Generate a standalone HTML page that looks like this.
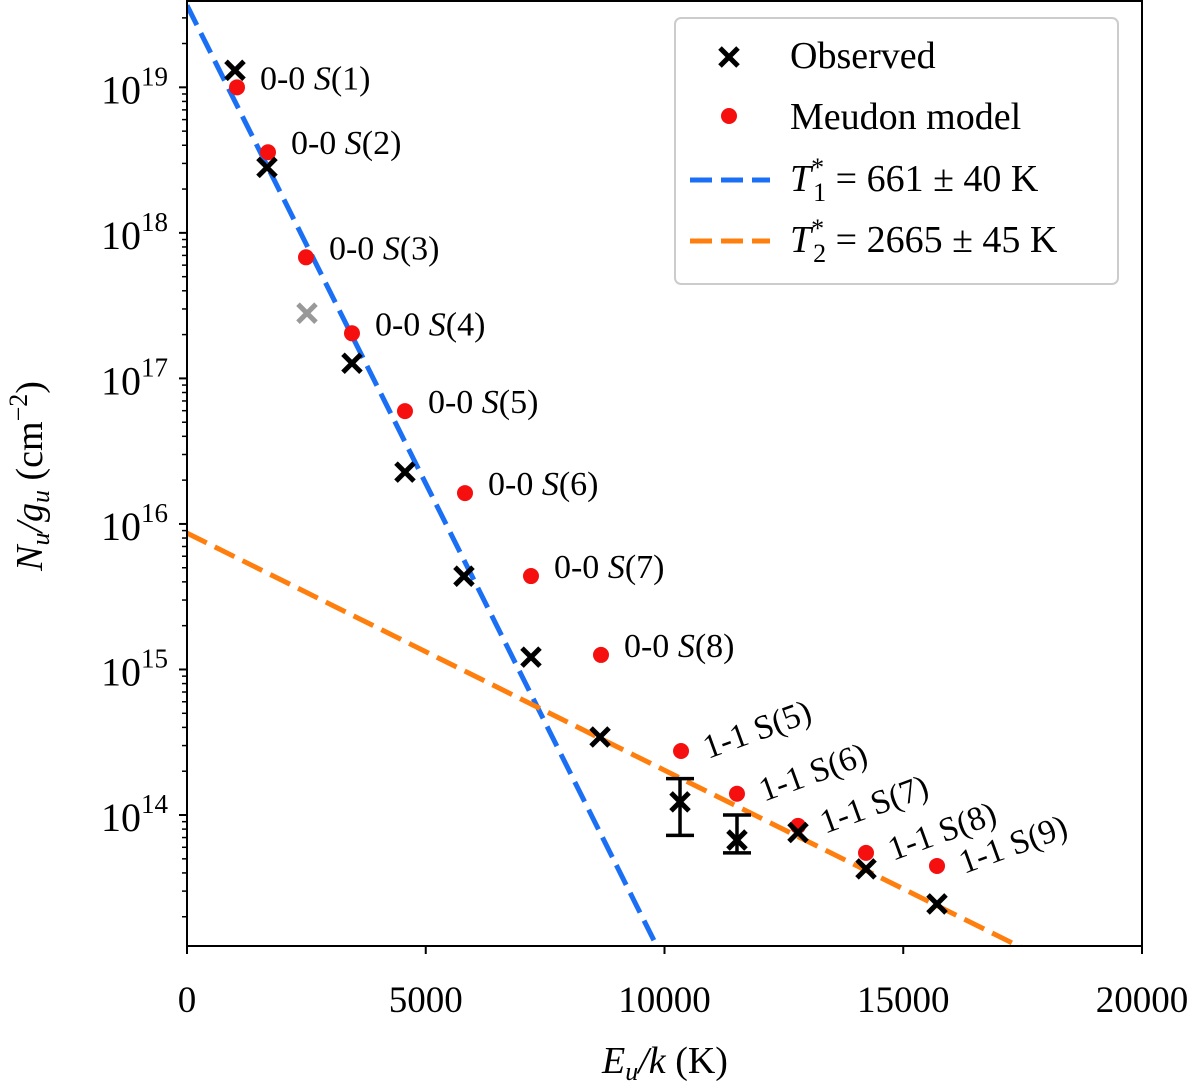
<!DOCTYPE html>
<html><head><meta charset="utf-8"><style>
html,body{margin:0;padding:0;background:#fff;overflow:hidden;}
svg{display:block;font-family:"Liberation Serif","DejaVu Serif",serif;}
</style></head><body>
<svg id="chart" width="1200" height="1091" viewBox="0 0 1200 1091"></svg>
<script>
const obsE=[1005,1675,3455,4565,5800,7204,8650,10325,11518,12796,14220,15707];
const obsLogN=[19.117,18.45,17.104,16.356,15.641,15.085,14.536,14.09,13.828,13.88,13.63,13.389];
const obsErrLo=[null,null,null,null,null,null,null,13.86,13.74,null,null,null];
const obsErrHi=[null,null,null,null,null,null,null,14.25,14.0,null,null,null];
const greyE=[2513];
const greyLogN=[17.448];
const modE=[1047,1696,2492,3455,4565,5822,7204,8670,10346,11518,12796,14220,15707];
const modLogN=[19.0,18.554,17.832,17.31,16.775,16.212,15.642,15.10,14.44,14.146,13.925,13.74,13.65];
const lineLabels=["0-0 S(1)","0-0 S(2)","0-0 S(3)","0-0 S(4)","0-0 S(5)","0-0 S(6)","0-0 S(7)","0-0 S(8)","1-1 S(5)","1-1 S(6)","1-1 S(7)","1-1 S(8)","1-1 S(9)"];
const fitT=[661,2665];
const fitLogN0=[19.563,15.937];
const xTicks=[0,5000,10000,15000,20000];
const yDecades=[14,15,16,17,18,19];

const NS="http://www.w3.org/2000/svg";
const svg=document.getElementById('chart');
const L=187,R=1142,T=0,B=946;
const x=e=>L+(e-0)/20000*(R-L);
const yMin=13.1,yMax=19.6;
const y=v=>B-(v-yMin)/(yMax-yMin)*(B-T);
function el(tag,attrs,parent){const e=document.createElementNS(NS,tag);for(const k in attrs)e.setAttribute(k,attrs[k]);(parent||svg).appendChild(e);return e;}

const defs=el('defs',{});const cp=el('clipPath',{id:'pc'},defs);el('rect',{x:L,y:T,width:R-L,height:B-T},cp);
const plot=el('g',{'clip-path':'url(#pc)'});



const fitColors=['#1a6ff5','#ff7f0e'];
fitT.forEach((t,i)=>{
  const slope=Math.LOG10E/t;
  const e1=20000;
  const ln=el('line',{x1:x(0),y1:y(fitLogN0[i]),x2:x(e1),y2:y(fitLogN0[i]-slope*e1),stroke:fitColors[i],'stroke-width':5,'stroke-dasharray':'22,9'},plot);
  
  
});

modE.forEach((e,i)=>{
  const c=el('circle',{cx:x(e),cy:y(modLogN[i]),r:8,fill:'#f50f0f'},plot);
  
  
});
function cross(px,py,col,parent,name){
  const g=el('g',{stroke:col,'stroke-width':5,'stroke-linecap':'butt'},parent);
  el('line',{x1:px-9,y1:py-9,x2:px+9,y2:py+9},g);el('line',{x1:px-9,y1:py+9,x2:px+9,y2:py-9},g);
  
  
}
greyE.forEach((e,i)=>cross(x(e),y(greyLogN[i]),'#999999',plot,'excluded-point'));
obsE.forEach((e,i)=>{
  if(obsErrLo[i]!==null){
    const g=el('g',{stroke:'#000','stroke-width':3.5},plot);
    
    
    const px=x(e),a=y(obsErrHi[i]),b=y(obsErrLo[i]);
    el('line',{x1:px,y1:a,x2:px,y2:b},g);el('line',{x1:px-14,y1:a,x2:px+14,y2:a},g);el('line',{x1:px-14,y1:b,x2:px+14,y2:b},g);
  }
  cross(x(e),y(obsLogN[i]),'#000',plot,'observed-point');
});

lineLabels.forEach((s,i)=>{
  const px=x(modE[i]),py=y(modLogN[i]);
  const m=s.match(/^(\S+) S\((\d)\)$/);
  const t=el('text',{'font-size':34});
  if(i<8){t.setAttribute('x',px+23);t.setAttribute('y',py+2);}
  else{t.setAttribute('transform',`translate(${px+27},${py+8}) rotate(-20)`);}
  t.innerHTML=`${m[1]} <tspan font-style="${i<8?'italic':'normal'}">S</tspan>(${m[2]})`;
  
  
});

const fr=el('rect',{x:L,y:T+1,width:R-L,height:B-T-1,fill:'none',stroke:'#000','stroke-width':2});



xTicks.forEach(v=>{
  el('line',{x1:x(v),y1:B,x2:x(v),y2:B+8,stroke:'#000','stroke-width':2});
  const t=el('text',{x:x(v),y:B+66,'font-size':37,'text-anchor':'middle'});t.textContent=v;
  
  
});
for(let d=13;d<=19;d++){
  for(let m=1;m<10;m++){
    const v=d+Math.log10(m);
    if(v<yMin||v>yMax)continue;
    el('line',{x1:L-(m===1?8:5),y1:y(v),x2:L,y2:y(v),stroke:'#000','stroke-width':m===1?2:1.5});
  }
}
yDecades.forEach(d=>{
  const t=el('text',{x:168,y:y(d)+16,'font-size':40,'text-anchor':'end'});
  t.innerHTML=`10<tspan font-size="27" dy="-18">${d}</tspan>`;
  
  
});

const xt=el('text',{x:665,y:1073,'font-size':38,'text-anchor':'middle'});
xt.innerHTML='<tspan font-style="italic">E</tspan><tspan font-style="italic" font-size="26" dy="7">u</tspan><tspan dy="-7" font-style="italic">/k</tspan> (K)';


const yt=el('text',{transform:'translate(42,476) rotate(-90)','font-size':38,'text-anchor':'middle'});
yt.innerHTML='<tspan font-style="italic">N</tspan><tspan font-style="italic" font-size="26" dy="7">u</tspan><tspan dy="-7" font-style="italic">/g</tspan><tspan font-style="italic" font-size="26" dy="7">u</tspan><tspan dy="-7"> (cm</tspan><tspan font-size="26" dy="-15">−2</tspan><tspan dy="15">)</tspan>';



const lg=el('g',{});


el('rect',{x:675,y:18,width:443,height:266,rx:6,fill:'#fff',stroke:'#ccc','stroke-width':2},lg);
cross(729,57,'#000',lg,'legend-observed-marker');
el('circle',{cx:729,cy:116,r:8,fill:'#f50f0f'},lg);
el('line',{x1:690,y1:180,x2:770,y2:180,stroke:fitColors[0],'stroke-width':5,'stroke-dasharray':'22,9'},lg);
el('line',{x1:690,y1:241,x2:770,y2:241,stroke:fitColors[1],'stroke-width':5,'stroke-dasharray':'22,9'},lg);
const lt=[['Observed',68],['Meudon model',129]];
lt.forEach(([s,yy])=>{const t=el('text',{x:790,y:yy,'font-size':38},lg);t.textContent=s;
  
  });
[[1,661,40,191],[2,2665,45,252]].forEach(([n,T0,e,yy])=>{
  const t=el('text',{x:790,y:yy,'font-size':38},lg);
  t.innerHTML=`<tspan font-style="italic">T</tspan><tspan font-size="26" dy="-15">*</tspan><tspan font-size="26" dx="-11" dy="25">${n}</tspan><tspan dy="-10"> = ${T0} ± ${e} K</tspan>`;
  
  
});
</script>
</body></html>
